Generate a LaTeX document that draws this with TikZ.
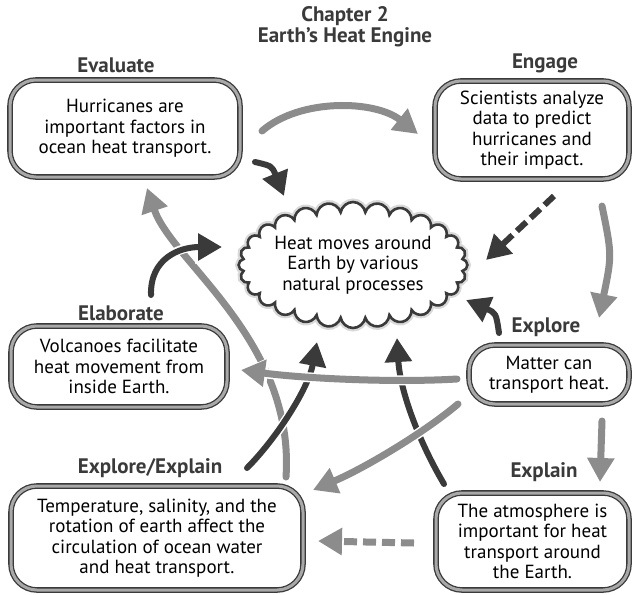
\documentclass[tikz,border=0pt]{standalone}
\usepackage{fontspec}
\setmainfont{PT Sans}
\usetikzlibrary{arrows.meta,shapes.symbols}
\definecolor{dk}{HTML}{3A3A3A}
\definecolor{gr}{HTML}{8C8C8C}
\definecolor{bgr}{HTML}{A8A8A8}
\begin{document}
\begin{tikzpicture}[x=1pt,y=-1pt,
  box/.style={draw=dk, line width=1.3pt, double=bgr, double distance=3pt, fill=white,
    rounded corners=26pt, align=center, font=\fontsize{19}{20.5}\selectfont, inner sep=0pt},
  lab/.style={font=\bfseries\fontsize{21}{23}\selectfont, text=dk},
  ga/.style={draw=gr, line width=7pt, line cap=round, -{Triangle[length=24pt,width=26pt]},
    preaction={draw=white, line width=10pt, -{Triangle[length=27pt,width=32pt]}}},
  da/.style={draw=dk, line width=6pt, line cap=round, -{Triangle[length=24pt,width=26pt]},
    preaction={draw=white, line width=9pt, -{Triangle[length=27pt,width=32pt]}}},
  dsh/.style={line cap=butt, dash pattern=on 13pt off 6pt}
]
\useasboundingbox (0,0) rectangle (634,594);

% title
\node[font=\bfseries\fontsize{21}{21}\selectfont, text=dk, align=center] (title) at (345,27) {Chapter 2\\Earth’s Heat Engine};

% labels
\node[lab] (levaluate) at (116,65) {Evaluate};
\node[lab] (lengage) at (545,63) {Engage};
\node[lab] (lelaborate) at (121,313) {Elaborate};
\node[lab] (lexplore) at (546,327) {Explore};
\node[lab] (lexpexp) at (150,468) {Explore/Explain};
\node[lab] (lexplain) at (544,472) {Explain};

% boxes
\node[box, minimum width=230, minimum height=97] (evaluate) at (125,128.5)
  {Hurricanes are\\important factors in\\ocean heat transport.};
\node[box, minimum width=194, minimum height=98] (engage) at (532,130)
  {Scientists analyze\\data to predict\\hurricanes and\\their impact.};
\node[box, minimum width=216, minimum height=81] (elaborate) at (119,366.5)
  {Volcanoes facilitate\\heat movement from\\inside Earth.};
\node[box, minimum width=160, minimum height=59] (explore) at (549,374.5)
  {Matter can\\transport heat.};
\node[box, minimum width=292, minimum height=104] (expexp) at (157,538)
  {Temperature, salinity, and the\\rotation of earth affect the\\circulation of ocean water\\and heat transport.};
\node[box, minimum width=193, minimum height=97] (explain) at (532.5,541.5)
  {The atmosphere is\\important for heat\\transport around\\the Earth.};

% cloud
\node[cloud, cloud puffs=28, cloud puff arc=160, cloud ignores aspect,
  minimum width=228, minimum height=126, draw=dk, line width=2.6pt, fill=white,
  preaction={draw=black!15, line width=7pt},
  align=center, font=\fontsize{19}{20.5}\selectfont, inner sep=0pt] (heat) at (353,265)
  {Heat moves around\\Earth by various\\natural processes};

% arrow end points
\coordinate (a1s) at (262,131); \coordinate (a1e) at (418,134);
\coordinate (a2s) at (255,162); \coordinate (a2e) at (284,196);
\coordinate (a3s) at (554,196); \coordinate (a3e) at (486,260);
\coordinate (a4s) at (602,206); \coordinate (a4e) at (599,318);
\coordinate (a5s) at (499,333); \coordinate (a5e) at (466,300);
\coordinate (a6s) at (457,379); \coordinate (a6e) at (241,370);
\coordinate (a7s) at (458,404); \coordinate (a7e) at (313,490);
\coordinate (a8s) at (444,484); \coordinate (a8e) at (397,338);
\coordinate (a9s) at (414,543); \coordinate (a9e) at (318,541);
\coordinate (a10s) at (247,468); \coordinate (a10e) at (317,342);
\coordinate (a11s) at (286,477); \coordinate (a11e) at (147,188);
\coordinate (a12s) at (151,295); \coordinate (a12e) at (222,247);
\coordinate (a13s) at (602,421); \coordinate (a13e) at (600,482);

% arrows
\draw[ga] (a1s) .. controls (300,98) and (375,100) .. (a1e);
\draw[da] (a2s) .. controls (272,166) .. (a2e);
\draw[da, dsh] (a3s) -- (a3e);
\draw[ga] (a4s) .. controls (612,255) .. (a4e);
\draw[ga] (a13s) -- (a13e);
\draw[da] (a5s) .. controls (496,313) .. (a5e);
\draw[ga] (a11s) .. controls (295,340) and (172,262) .. (a11e);
\draw[da] (a12s) .. controls (150,258) and (180,247) .. (a12e);
\draw[da] (a10s) .. controls (275,440) and (308,390) .. (a10e);
\draw[da] (a8s) .. controls (418,440) and (400,390) .. (a8e);
\draw[ga] (a6s) .. controls (390,383) and (300,378) .. (a6e);
\draw[ga] (a7s) .. controls (425,432) and (365,468) .. (a7e);
\draw[ga, dsh] (a9s) -- (a9e);
\end{tikzpicture}
\end{document}
